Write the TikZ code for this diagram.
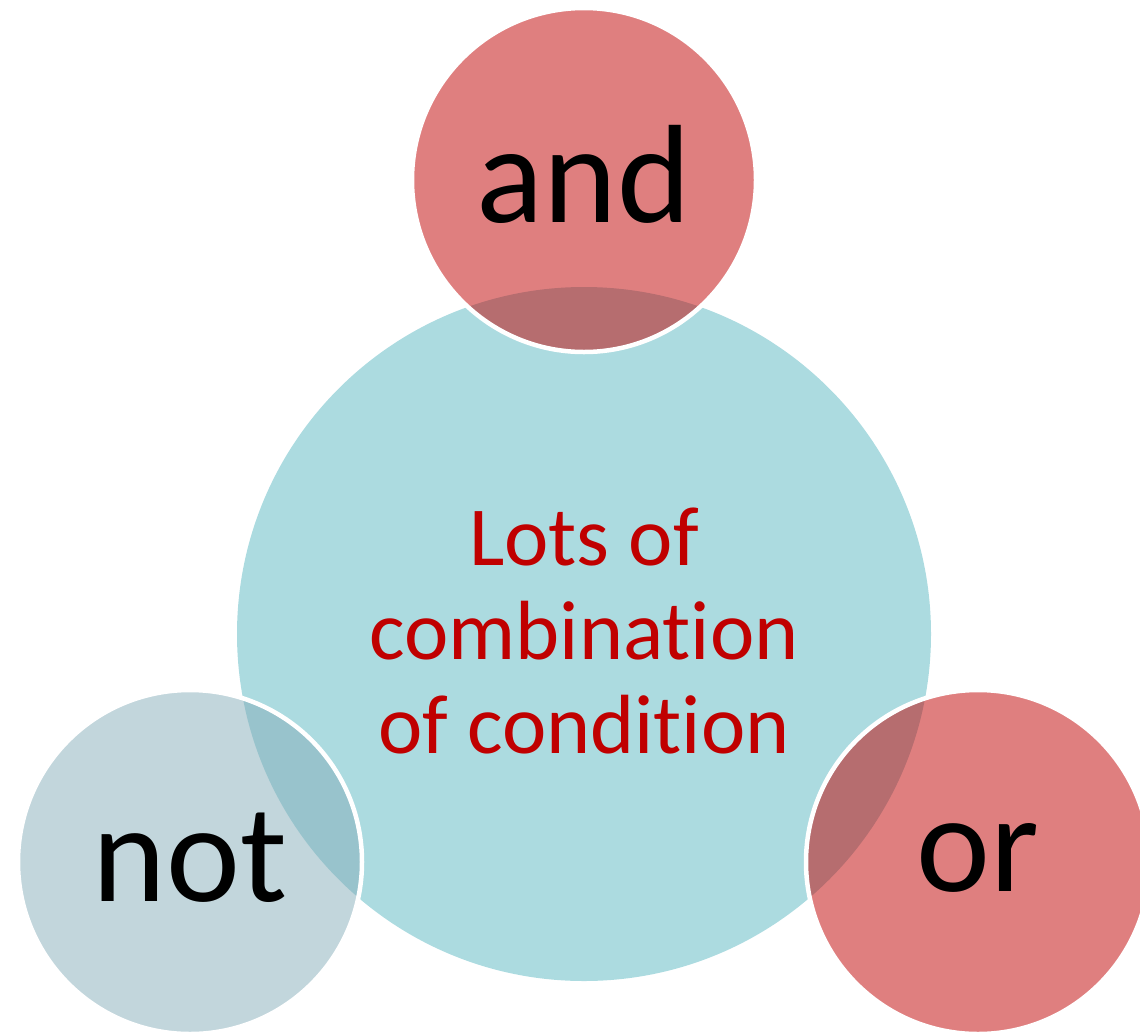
\documentclass[tikz,border=0pt]{standalone}
\usepackage{fontspec}
\setmainfont{Carlito}[RawFeature=-liga]
\definecolor{coretint}{RGB}{172,219,224}
\definecolor{redtint}{RGB}{192,0,0}
\definecolor{greytint}{RGB}{133,173,185}
\definecolor{labelred}{RGB}{192,0,0}
\tikzset{
  core/.style={circle, fill=coretint, minimum size=694pt, inner sep=0pt},
  petal/.style={circle, minimum size=344pt, inner sep=0pt, draw=white, line width=4.5pt, fill opacity=0.5},
  bigword/.style={font=\fontsize{140}{150}\selectfont, text=black},
}
\begin{document}
\begin{tikzpicture}[x=1pt, y=-1pt]
  \useasboundingbox (0,0) rectangle (1140,1034);
  \clip (0,0) rectangle (1140,1034);
  % central circle
  \node[core] (core) at (584,634) {};
  % three overlapping circles
  \node[petal, fill=redtint] (andc) at (584,180) {};
  \node[petal, fill=greytint] (notc) at (190,862) {};
  \node[petal, fill=redtint] (orc) at (978,862) {};
  % labels
  \node[bigword] (andt) at (584,174) {and};
  \node[bigword] (nott) at (190,858) {not};
  \node[bigword] (ort) at (978,858) {or};
  \node[align=center, text=labelred, font=\fontsize{84}{94}\selectfont] (coret) at (584,631)
    {Lots of\\combination\\of condition};
\end{tikzpicture}
\end{document}
